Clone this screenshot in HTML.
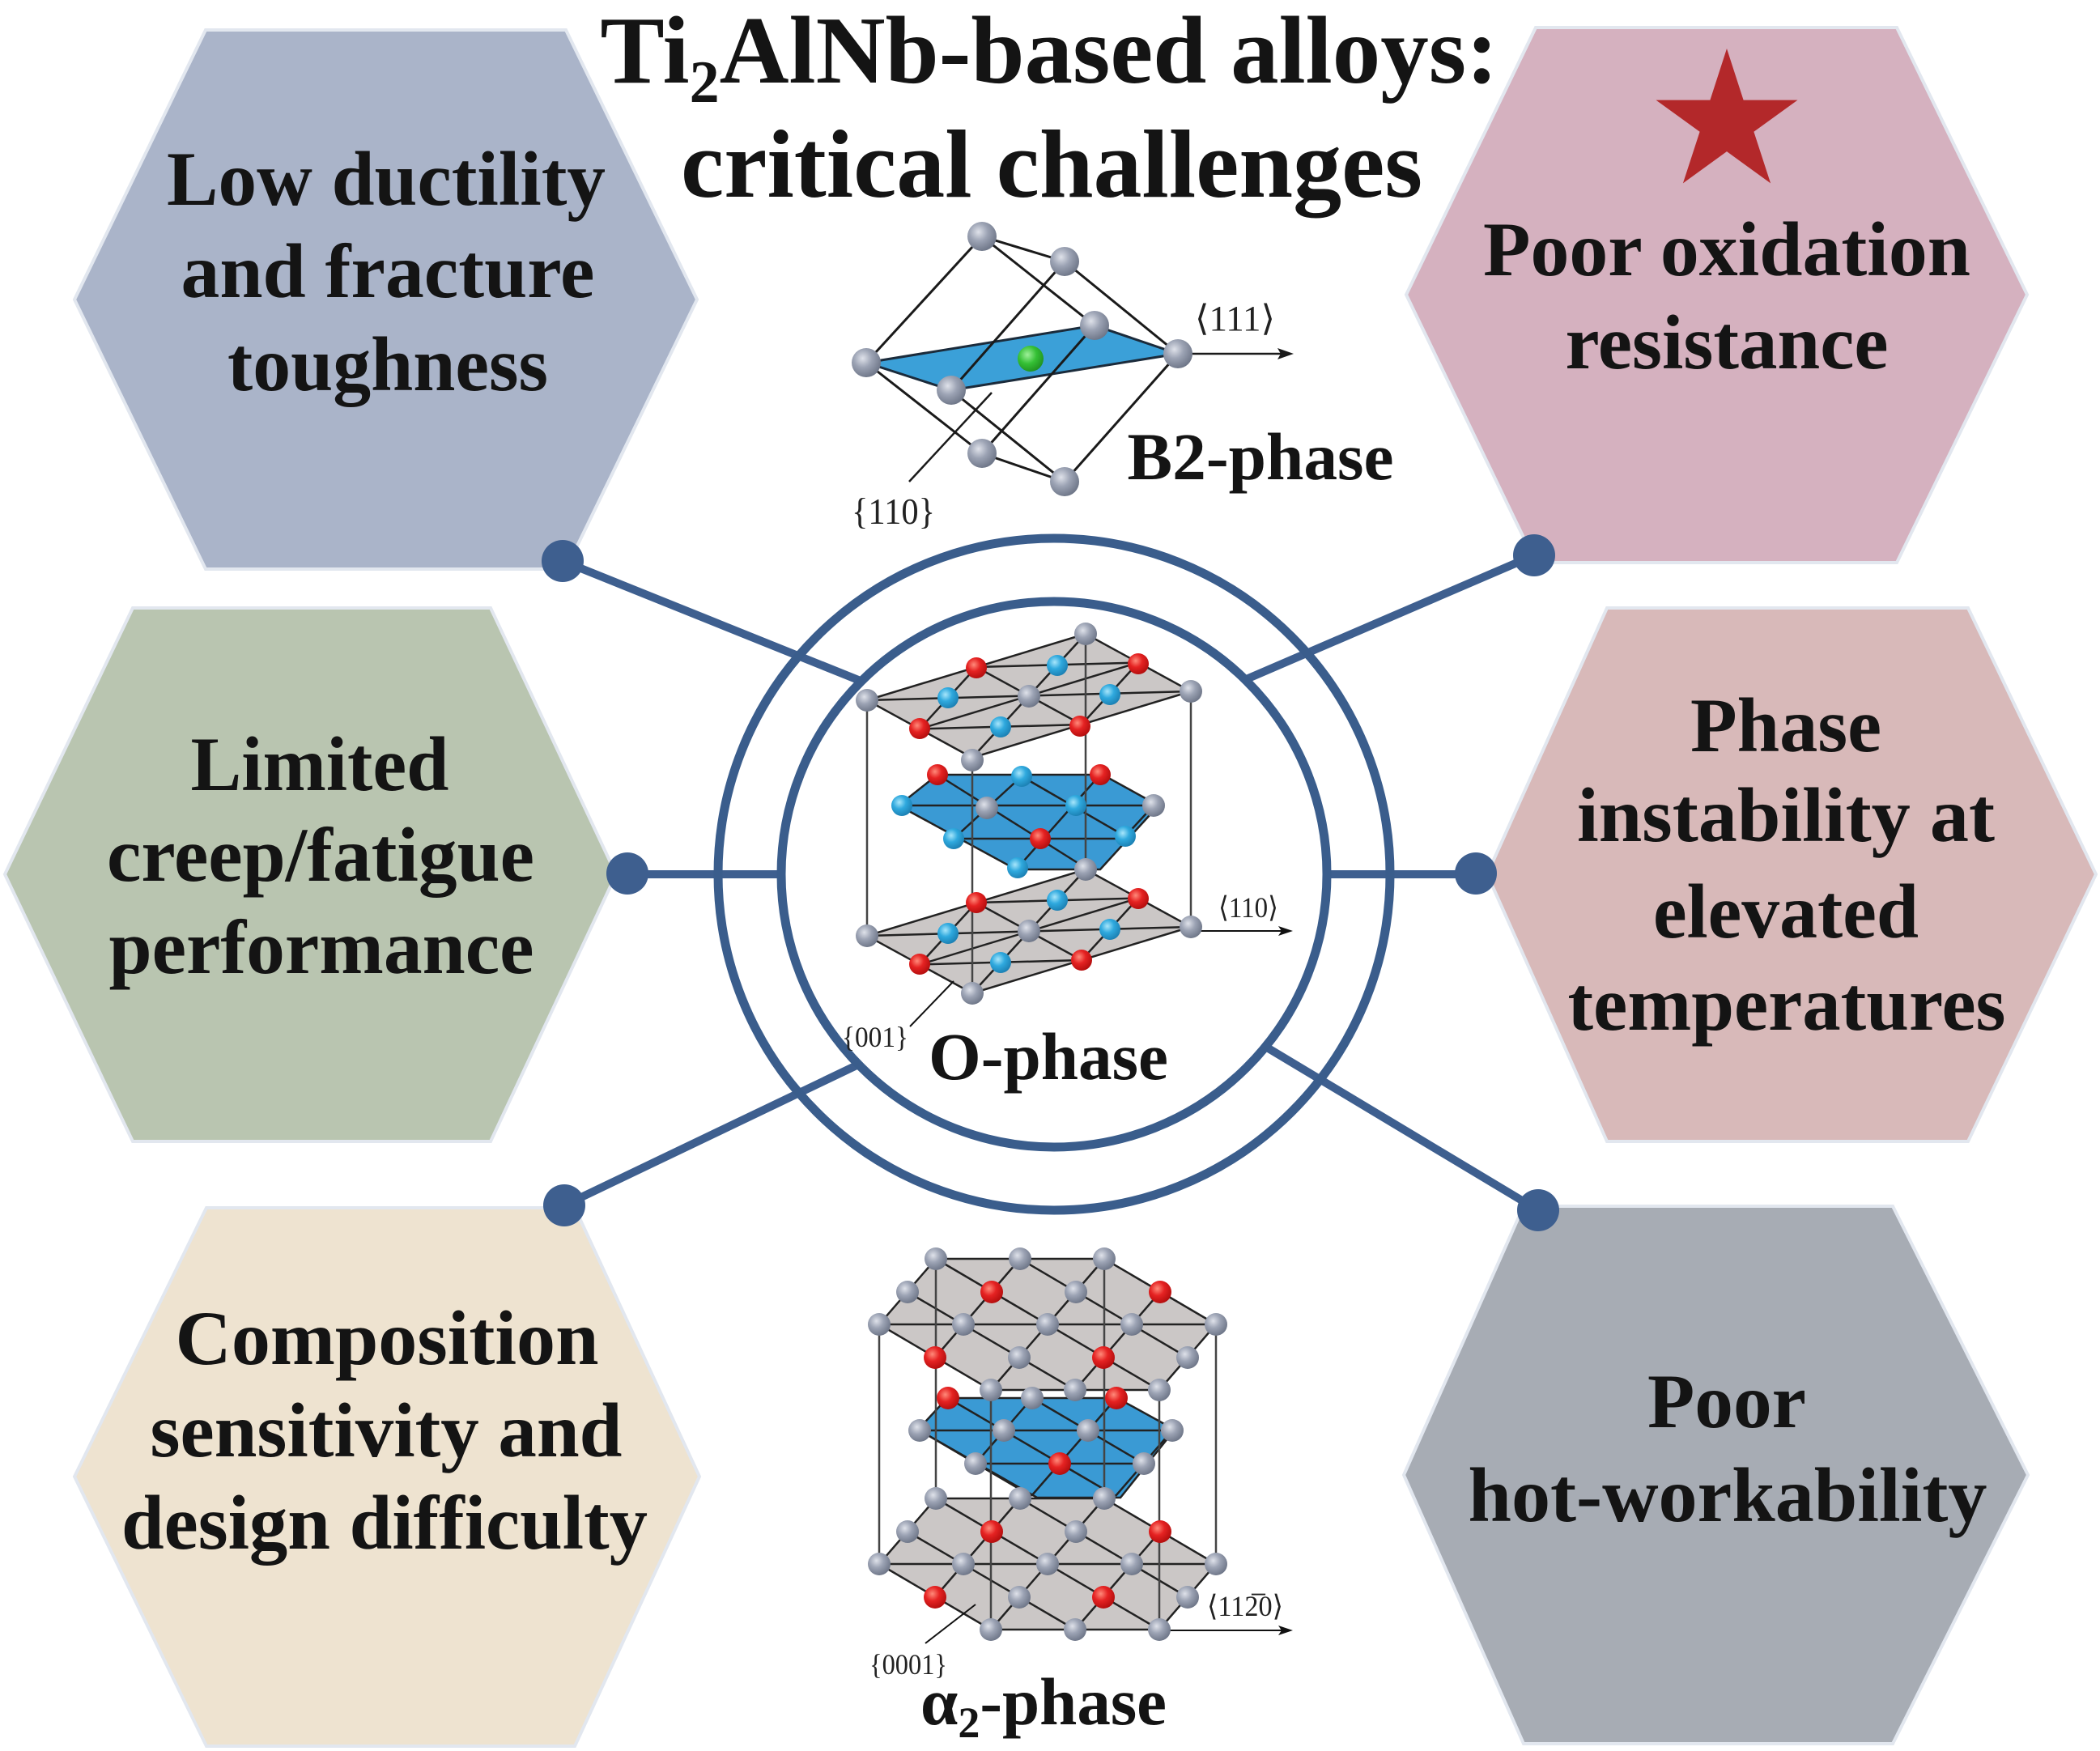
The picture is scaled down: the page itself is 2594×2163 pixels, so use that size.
<!DOCTYPE html>
<html><head><meta charset="utf-8"><style>html,body{margin:0;padding:0;background:#fff}svg{display:block}
.h{font-family:"Liberation Serif","DejaVu Serif",serif;font-weight:bold;fill:#141414;text-anchor:middle}
.s{font-family:"Liberation Serif","DejaVu Serif",serif;fill:#222}
</style></head><body>
<svg width="2594" height="2163" viewBox="0 0 2594 2163" xmlns="http://www.w3.org/2000/svg">
<defs>
<radialGradient id="gg" cx="0.38" cy="0.35" r="0.7"><stop offset="0" stop-color="#dfe2ea"/><stop offset="0.45" stop-color="#9ca3b4"/><stop offset="1" stop-color="#6b7385"/></radialGradient>
<radialGradient id="rg" cx="0.38" cy="0.35" r="0.7"><stop offset="0" stop-color="#ff8a7a"/><stop offset="0.45" stop-color="#e52222"/><stop offset="1" stop-color="#b00c0c"/></radialGradient>
<radialGradient id="bg" cx="0.38" cy="0.35" r="0.7"><stop offset="0" stop-color="#a8e6fb"/><stop offset="0.45" stop-color="#2fa9de"/><stop offset="1" stop-color="#1a7db0"/></radialGradient>
<radialGradient id="grn" cx="0.38" cy="0.35" r="0.7"><stop offset="0" stop-color="#9ff09a"/><stop offset="0.5" stop-color="#35c035"/><stop offset="1" stop-color="#1f8f1f"/></radialGradient>
</defs>
<rect width="2594" height="2163" fill="#fff"/>

<!-- hexagons -->
<g stroke="#e2e7ef" stroke-width="4">
<polygon points="254,37 699,37 861,370 699,703 254,703 92,370" fill="#aab4c9"/>
<polygon points="1897,34 2343,34 2504,364 2343,695 1897,695 1737,364" fill="#d5b1bf"/>
<polygon points="164,751 606,751 761,1080 606,1410 164,1410 6,1080" fill="#b9c5b0"/>
<polygon points="1985,751 2431,751 2589,1080 2431,1410 1985,1410 1837,1080" fill="#d8b9b9"/>
<polygon points="255,1492 710,1492 864,1824 710,2157 255,2157 92,1824" fill="#eee3d0"/>
<polygon points="1882,1490 2338,1490 2505,1822 2338,2154 1882,2154 1734,1822" fill="#a7acb4"/>
</g>

<!-- star -->
<polygon points="2133,60 2153.6,123.6 2220.5,123.6 2166.4,162.8 2187.1,226.4 2133,187.1 2078.9,226.4 2099.6,162.8 2045.5,123.6 2112.4,123.6" fill="#b3282a"/>

<!-- title -->
<text class="h" x="1296" y="102" font-size="119">Ti<tspan font-size="74" dy="24">2</tspan><tspan dy="-24">AlNb-based alloys:</tspan></text>
<text class="h" x="1299" y="243" font-size="120" textLength="916" lengthAdjust="spacingAndGlyphs">critical challenges</text>

<!-- hexagon texts -->
<g class="h" font-size="95">
<text x="477" y="253" textLength="542" lengthAdjust="spacingAndGlyphs">Low ductility</text>
<text x="479" y="367" textLength="511" lengthAdjust="spacingAndGlyphs">and fracture</text>
<text x="479" y="482" textLength="396" lengthAdjust="spacingAndGlyphs">toughness</text>

<text x="2133" y="340" textLength="602" lengthAdjust="spacingAndGlyphs">Poor oxidation</text>
<text x="2133" y="455" textLength="399" lengthAdjust="spacingAndGlyphs">resistance</text>

<text x="395" y="976" textLength="319" lengthAdjust="spacingAndGlyphs">Limited</text>
<text x="396" y="1088" textLength="528" lengthAdjust="spacingAndGlyphs">creep/fatigue</text>
<text x="397" y="1202" textLength="525" lengthAdjust="spacingAndGlyphs">performance</text>

<text x="2206" y="928" textLength="236" lengthAdjust="spacingAndGlyphs">Phase</text>
<text x="2206" y="1039" textLength="516" lengthAdjust="spacingAndGlyphs">instability at</text>
<text x="2206" y="1158" textLength="328" lengthAdjust="spacingAndGlyphs">elevated</text>
<text x="2207" y="1272" textLength="541" lengthAdjust="spacingAndGlyphs">temperatures</text>

<text x="478" y="1685" textLength="523" lengthAdjust="spacingAndGlyphs">Composition</text>
<text x="477" y="1799" textLength="583" lengthAdjust="spacingAndGlyphs">sensitivity and</text>
<text x="475" y="1913" textLength="650" lengthAdjust="spacingAndGlyphs">design difficulty</text>

<text x="2133" y="1763" textLength="196" lengthAdjust="spacingAndGlyphs">Poor</text>
<text x="2134" y="1879" textLength="641" lengthAdjust="spacingAndGlyphs">hot-workability</text>
</g>

<!-- connectors -->
<g stroke="#3e5f8f" stroke-width="10" stroke-linecap="round">
<line x1="695" y1="693" x2="1100" y2="856"/>
<line x1="1895" y1="686" x2="1500" y2="856"/>
<line x1="775" y1="1080" x2="1100" y2="1080"/>
<line x1="1823" y1="1080" x2="1500" y2="1080"/>
<line x1="697" y1="1489" x2="1100" y2="1296"/>
<line x1="1900" y1="1495" x2="1500" y2="1255"/>
</g>
<circle cx="1302" cy="1080" r="337" fill="#fff"/>
<circle cx="1302" cy="1080" r="415" fill="none" stroke="#3a5d8c" stroke-width="11"/>
<circle cx="1302" cy="1080" r="337" fill="none" stroke="#3a5d8c" stroke-width="11"/>
<g fill="#3e5f8f">
<circle cx="695" cy="693" r="26"/>
<circle cx="1895" cy="686" r="26"/>
<circle cx="775" cy="1079" r="26"/>
<circle cx="1823" cy="1079" r="26"/>
<circle cx="697" cy="1489" r="26"/>
<circle cx="1900" cy="1495" r="26"/>
</g>

<!-- B2 phase -->
<polygon points="1070,448 1352,402 1455,437 1175,482" fill="#3ba0d8" stroke="#1b2b3b" stroke-width="3"/>
<g stroke="#1a1a1a" stroke-width="3">
<line x1="1213" y1="292" x2="1315" y2="323"/>
<line x1="1213" y1="292" x2="1070" y2="448"/>
<line x1="1213" y1="292" x2="1352" y2="402"/>
<line x1="1315" y1="323" x2="1455" y2="437"/>
<line x1="1315" y1="323" x2="1175" y2="482"/>
<line x1="1352" y1="402" x2="1213" y2="560"/>
<line x1="1455" y1="437" x2="1315" y2="595"/>
<line x1="1070" y1="448" x2="1213" y2="560"/>
<line x1="1175" y1="482" x2="1315" y2="595"/>
<line x1="1213" y1="560" x2="1315" y2="595"/>
<line x1="1123" y1="595" x2="1225" y2="485" stroke-width="2.5"/>
<line x1="1455" y1="437" x2="1585" y2="437" stroke-width="2.5"/>
</g>
<polygon points="1598,437 1578,430 1582,437 1578,444" fill="#1a1a1a"/>
<circle cx="1273" cy="443" r="16" fill="url(#grn)"/>
<g fill="url(#gg)">
<circle cx="1213" cy="292" r="18"/><circle cx="1315" cy="323" r="18"/><circle cx="1352" cy="402" r="18"/>
<circle cx="1455" cy="437" r="18"/><circle cx="1070" cy="448" r="18"/><circle cx="1175" cy="482" r="18"/>
<circle cx="1213" cy="560" r="18"/><circle cx="1315" cy="595" r="18"/>
</g>
<text class="s" x="1476" y="408" font-size="44" textLength="99" lengthAdjust="spacingAndGlyphs">⟨111⟩</text>
<text class="s" x="1052" y="647" font-size="46" textLength="103" lengthAdjust="spacingAndGlyphs">{110}</text>
<text class="h" x="1557" y="592" font-size="83" textLength="329" lengthAdjust="spacingAndGlyphs">B2-phase</text>

<!-- O phase -->
<g stroke="#222" stroke-width="2.5">
<polygon points="1071,1156 1341,1074 1471,1145 1201,1227" fill="#cbc7c6"/>
<line x1="1071" y1="1156" x2="1471" y2="1145"/><line x1="1341" y1="1074" x2="1201" y2="1227"/>
<polygon points="1206,1115 1406,1109.5 1336,1186 1136,1191.5" fill="none"/>
<line x1="1206" y1="1115" x2="1336" y2="1186"/><line x1="1136" y1="1191.5" x2="1406" y2="1109.5"/>
<polygon points="1110,995 1158,957 1362,957 1431,995 1359,1074 1255,1074" fill="#3a9ad4"/>
<line x1="1114" y1="995" x2="1425" y2="995"/><line x1="1178" y1="1036" x2="1390" y2="1036"/>
<line x1="1158" y1="957" x2="1344" y2="1074"/><line x1="1262" y1="959" x2="1390" y2="1033"/>
<line x1="1262" y1="959" x2="1178" y2="1036"/><line x1="1359" y1="957" x2="1257" y2="1072"/>
<line x1="1425" y1="995" x2="1390" y2="1033"/>
<polygon points="1071,865 1341,783 1471,854 1201,936" fill="#cbc7c6"/>
<line x1="1071" y1="865" x2="1471" y2="854"/><line x1="1341" y1="783" x2="1201" y2="936"/>
<polygon points="1206,824 1406,818.5 1336,895 1136,900.5" fill="none"/>
<line x1="1206" y1="824" x2="1336" y2="895"/><line x1="1136" y1="900.5" x2="1406" y2="818.5"/>
</g>
<g stroke="#444" stroke-width="2.5">
<line x1="1071" y1="865" x2="1071" y2="1156"/><line x1="1471" y1="854" x2="1471" y2="1145"/>
<line x1="1341" y1="783" x2="1341" y2="1074"/><line x1="1201" y1="936" x2="1201" y2="1227"/>
<line x1="1471" y1="1150" x2="1584" y2="1150" stroke="#111" stroke-width="2"/>
<line x1="1124" y1="1268" x2="1178" y2="1212" stroke="#111" stroke-width="2"/>
</g>
<polygon points="1597,1150 1579,1144 1583,1150 1579,1156" fill="#111"/>
<g>
<g fill="url(#gg)"><circle cx="1071" cy="1156" r="14"/><circle cx="1341" cy="1074" r="14"/><circle cx="1471" cy="1145" r="14"/><circle cx="1201" cy="1227" r="14"/><circle cx="1271" cy="1150" r="14"/></g>
<g fill="url(#rg)"><circle cx="1206" cy="1115" r="13"/><circle cx="1406" cy="1110" r="13"/><circle cx="1136" cy="1191" r="13"/><circle cx="1336" cy="1186" r="13"/></g>
<g fill="url(#bg)"><circle cx="1171" cy="1153" r="13"/><circle cx="1306" cy="1112" r="13"/><circle cx="1236" cy="1189" r="13"/><circle cx="1371" cy="1148" r="13"/></g>
<g fill="url(#rg)"><circle cx="1158" cy="957" r="13"/><circle cx="1359" cy="957" r="13"/><circle cx="1285" cy="1036" r="13"/></g>
<g fill="url(#bg)"><circle cx="1114" cy="995" r="13"/><circle cx="1262" cy="959" r="13"/><circle cx="1329" cy="995" r="13"/><circle cx="1390" cy="1033" r="13"/><circle cx="1178" cy="1036" r="13"/><circle cx="1257" cy="1072" r="13"/></g>
<g fill="url(#gg)"><circle cx="1219" cy="998" r="14"/><circle cx="1425" cy="995" r="14"/></g>
<g fill="url(#gg)"><circle cx="1071" cy="865" r="14"/><circle cx="1341" cy="783" r="14"/><circle cx="1471" cy="854" r="14"/><circle cx="1201" cy="939" r="14"/><circle cx="1271" cy="860" r="14"/></g>
<g fill="url(#rg)"><circle cx="1206" cy="825" r="13"/><circle cx="1406" cy="820" r="13"/><circle cx="1136" cy="900" r="13"/><circle cx="1334" cy="897" r="13"/></g>
<g fill="url(#bg)"><circle cx="1171" cy="862" r="13"/><circle cx="1306" cy="822" r="13"/><circle cx="1236" cy="898" r="13"/><circle cx="1371" cy="858" r="13"/></g>
</g>
<text class="s" x="1505" y="1133" font-size="36" textLength="74" lengthAdjust="spacingAndGlyphs">⟨110⟩</text>
<text class="s" x="1040" y="1293" font-size="36" textLength="82" lengthAdjust="spacingAndGlyphs">{001}</text>
<text class="h" x="1295" y="1333" font-size="83" textLength="296" lengthAdjust="spacingAndGlyphs">O-phase</text>

<!-- alpha2 phase -->
<g stroke="#222" stroke-width="2.5">
<!-- bottom plane -->
<polygon points="1156,1851 1364,1851 1502,1932 1432,2013 1224,2013 1086,1932" fill="#cbc7c6"/>
<line x1="1260" y1="1851" x2="1155" y2="1973"/><line x1="1364" y1="1851" x2="1224" y2="2013"/>
<line x1="1433" y1="1892" x2="1328" y2="2013"/>
<line x1="1156" y1="1851" x2="1432" y2="2013"/><line x1="1260" y1="1851" x2="1467" y2="1973"/>
<line x1="1121" y1="1892" x2="1328" y2="2013"/>
<line x1="1086" y1="1932" x2="1502" y2="1932"/>
<!-- middle plane -->
<polygon points="1134,1766 1170,1727 1380,1727 1451,1766 1384,1850 1281,1850" fill="#3a9ad4"/>
<line x1="1136" y1="1767" x2="1448" y2="1767"/><line x1="1205" y1="1808" x2="1413" y2="1808"/>
<line x1="1171" y1="1727" x2="1378" y2="1848"/><line x1="1275" y1="1727" x2="1413" y2="1808"/>
<line x1="1136" y1="1767" x2="1274" y2="1848"/>
<line x1="1275" y1="1727" x2="1205" y2="1808"/><line x1="1379" y1="1727" x2="1274" y2="1848"/>
<line x1="1448" y1="1767" x2="1378" y2="1848"/>
<!-- top plane -->
<polygon points="1156,1555 1364,1555 1502,1636 1432,1717 1224,1717 1086,1636" fill="#cbc7c6"/>
<line x1="1260" y1="1555" x2="1155" y2="1677"/><line x1="1364" y1="1555" x2="1224" y2="1717"/>
<line x1="1433" y1="1596" x2="1328" y2="1717"/>
<line x1="1156" y1="1555" x2="1432" y2="1717"/><line x1="1260" y1="1555" x2="1467" y2="1677"/>
<line x1="1121" y1="1596" x2="1328" y2="1717"/>
<line x1="1086" y1="1636" x2="1502" y2="1636"/>
</g>
<g stroke="#444" stroke-width="2.5">
<line x1="1086" y1="1636" x2="1086" y2="1932"/><line x1="1502" y1="1636" x2="1502" y2="1932"/>
<line x1="1156" y1="1555" x2="1156" y2="1851"/><line x1="1364" y1="1555" x2="1364" y2="1851"/>
<line x1="1224" y1="1717" x2="1224" y2="2013"/><line x1="1432" y1="1717" x2="1432" y2="2013"/>
<line x1="1432" y1="2014" x2="1584" y2="2014" stroke="#111" stroke-width="2"/>
<line x1="1143" y1="2030" x2="1205" y2="1982" stroke="#111" stroke-width="2"/>
</g>
<polygon points="1597,2014 1579,2008 1583,2014 1579,2020" fill="#111"/>
<!-- bottom plane atoms -->
<g fill="url(#gg)">
<circle cx="1121" cy="1892" r="14"/><circle cx="1329" cy="1892" r="14"/>
<circle cx="1086" cy="1932" r="14"/><circle cx="1190" cy="1932" r="14"/><circle cx="1294" cy="1932" r="14"/><circle cx="1398" cy="1932" r="14"/><circle cx="1502" cy="1932" r="14"/>
<circle cx="1259" cy="1973" r="14"/><circle cx="1467" cy="1973" r="14"/>
<circle cx="1224" cy="2013" r="14"/><circle cx="1328" cy="2013" r="14"/><circle cx="1432" cy="2013" r="14"/>
</g>
<g fill="url(#rg)"><circle cx="1225" cy="1892" r="14"/><circle cx="1433" cy="1892" r="14"/><circle cx="1155" cy="1973" r="14"/><circle cx="1363" cy="1973" r="14"/></g>
<g fill="url(#gg)"><circle cx="1156" cy="1851" r="14"/><circle cx="1260" cy="1851" r="14"/><circle cx="1364" cy="1851" r="14"/></g>
<!-- middle atoms -->
<g fill="url(#rg)"><circle cx="1171" cy="1727" r="14"/><circle cx="1379" cy="1727" r="14"/><circle cx="1309" cy="1808" r="14"/></g>
<g fill="url(#gg)"><circle cx="1275" cy="1727" r="14"/><circle cx="1136" cy="1767" r="14"/><circle cx="1240" cy="1767" r="14"/><circle cx="1344" cy="1767" r="14"/><circle cx="1448" cy="1767" r="14"/><circle cx="1205" cy="1808" r="14"/><circle cx="1413" cy="1808" r="14"/></g>
<!-- top atoms -->
<g fill="url(#gg)">
<circle cx="1156" cy="1555" r="14"/><circle cx="1260" cy="1555" r="14"/><circle cx="1364" cy="1555" r="14"/>
<circle cx="1121" cy="1596" r="14"/><circle cx="1329" cy="1596" r="14"/>
<circle cx="1086" cy="1636" r="14"/><circle cx="1190" cy="1636" r="14"/><circle cx="1294" cy="1636" r="14"/><circle cx="1398" cy="1636" r="14"/><circle cx="1502" cy="1636" r="14"/>
<circle cx="1259" cy="1677" r="14"/><circle cx="1467" cy="1677" r="14"/>
<circle cx="1224" cy="1717" r="14"/><circle cx="1328" cy="1717" r="14"/><circle cx="1432" cy="1717" r="14"/>
</g>
<g fill="url(#rg)"><circle cx="1225" cy="1596" r="14"/><circle cx="1433" cy="1596" r="14"/><circle cx="1155" cy="1677" r="14"/><circle cx="1363" cy="1677" r="14"/></g>
<text class="s" x="1491" y="1996" font-size="36" textLength="94" lengthAdjust="spacingAndGlyphs">⟨11<tspan>2̅</tspan>0⟩</text>
<text class="s" x="1074" y="2068" font-size="36" textLength="96" lengthAdjust="spacingAndGlyphs">{0001}</text>
<text class="h" x="1289" y="2130" font-size="83">α<tspan font-size="54" dy="16">2</tspan><tspan dy="-16">-phase</tspan></text>
</svg>
</body></html>
